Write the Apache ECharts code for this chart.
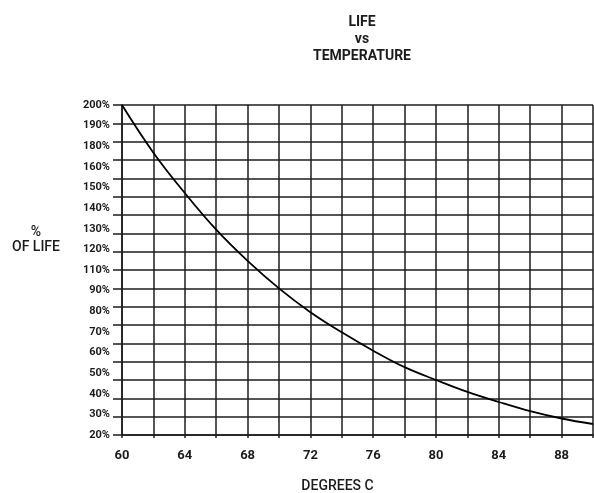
<!DOCTYPE html>
<html>
<head>
    <meta charset="UTF-8">
    <title>Life vs Temperature</title>
    <style>
        html, body { margin: 0; padding: 0; background: #fff; }
        #chart { width: 594px; height: 493px; }
    </style>
</head>
<body>
    <div id="chart"></div>
    <script src="https://cdn.jsdelivr.net/npm/echarts@6/dist/echarts.min.js"></script>
    <script>
        // temperature (deg C) and % of life at every grid line
        const temps = [60, 62, 64, 66, 68, 70, 72, 74, 76, 78, 80, 82, 84, 86, 88, 90];
        const lifePct = [200, 174, 152, 132, 115, 100, 87, 76, 66, 57, 50, 43.5, 38, 33, 29, 26];

        // labels printed on the axes (the original skips 100% and 170%)
        const yLabels = ['20%', '30%', '40%', '50%', '60%', '70%', '80%', '90%', '110%',
                         '120%', '130%', '140%', '150%', '160%', '180%', '190%', '200%'];
        const xLabels = [60, 64, 68, 72, 76, 80, 84, 88];

        const ink = '#1c1c1c';
        const font = 'Roboto, "Noto Sans", sans-serif';

        const chart = echarts.init(document.getElementById('chart'));
        chart.setOption({
            animation: false,
            title: {
                text: 'LIFE\nvs\nTEMPERATURE',
                left: 357,
                top: 9,
                textAlign: 'center',
                textStyle: {
                    fontFamily: font,
                    fontSize: 14,
                    fontWeight: 'bold',
                    lineHeight: 17,
                    color: ink
                }
            },
            grid: { left: 122, right: 1, top: 105, bottom: 58, outerBoundsMode: 'none', containLabel: false },
            xAxis: {
                type: 'value',
                min: 60,
                max: 90,
                interval: 2,
                name: 'DEGREES C',
                nameLocation: 'middle',
                nameGap: 44,
                nameTextStyle: {
                    fontFamily: font, fontSize: 14, fontWeight: 500, color: ink,
                    padding: [0, 40, 0, 0]
                },
                axisLine: { lineStyle: { color: ink, width: 1.5 } },
                axisTick: { length: 3, lineStyle: { color: ink, width: 1.5 } },
                splitLine: { show: true, lineStyle: { color: ink, width: 1.5 } },
                axisLabel: {
                    margin: 14,
                    fontFamily: font,
                    fontSize: 13,
                    fontWeight: 'bold',
                    color: ink,
                    showMaxLabel: true,
                    formatter: v => xLabels.includes(v) ? String(v) : ''
                }
            },
            yAxis: [
                {
                    type: 'value',
                    min: 20,
                    max: 200,
                    interval: 10,
                    name: '%\nOF LIFE',
                    nameLocation: 'middle',
                    nameRotate: 0,
                    nameGap: 86,
                    nameTextStyle: {
                        fontFamily: font, fontSize: 14, fontWeight: 500, color: ink, lineHeight: 15,
                        align: 'center',
                        verticalAlign: 'bottom',
                        padding: [0, 0, 15, 0]
                    },
                    axisLine: { show: true, lineStyle: { color: ink, width: 1.5 } },
                    axisTick: { show: true, length: 9, lineStyle: { color: ink, width: 1.5 } },
                    splitLine: { show: true, lineStyle: { color: ink, width: 1.5 } },
                    axisLabel: { show: false }
                },
                {
                    type: 'category',
                    position: 'left',
                    data: yLabels,
                    boundaryGap: false,
                    axisLine: { show: false },
                    axisTick: { show: false },
                    splitLine: { show: false },
                    axisLabel: {
                        interval: 0,
                        margin: 12,
                        fontFamily: font,
                        fontSize: 11,
                        fontWeight: 'bold',
                        color: ink
                    }
                }
            ],
            series: [{
                type: 'line',
                xAxisIndex: 0,
                yAxisIndex: 0,
                data: temps.map((t, i) => [t, lifePct[i]]),
                smooth: 0.4,
                symbol: 'none',
                lineStyle: { color: '#000', width: 1.8 }
            }]
        });
    </script>
</body>
</html>
